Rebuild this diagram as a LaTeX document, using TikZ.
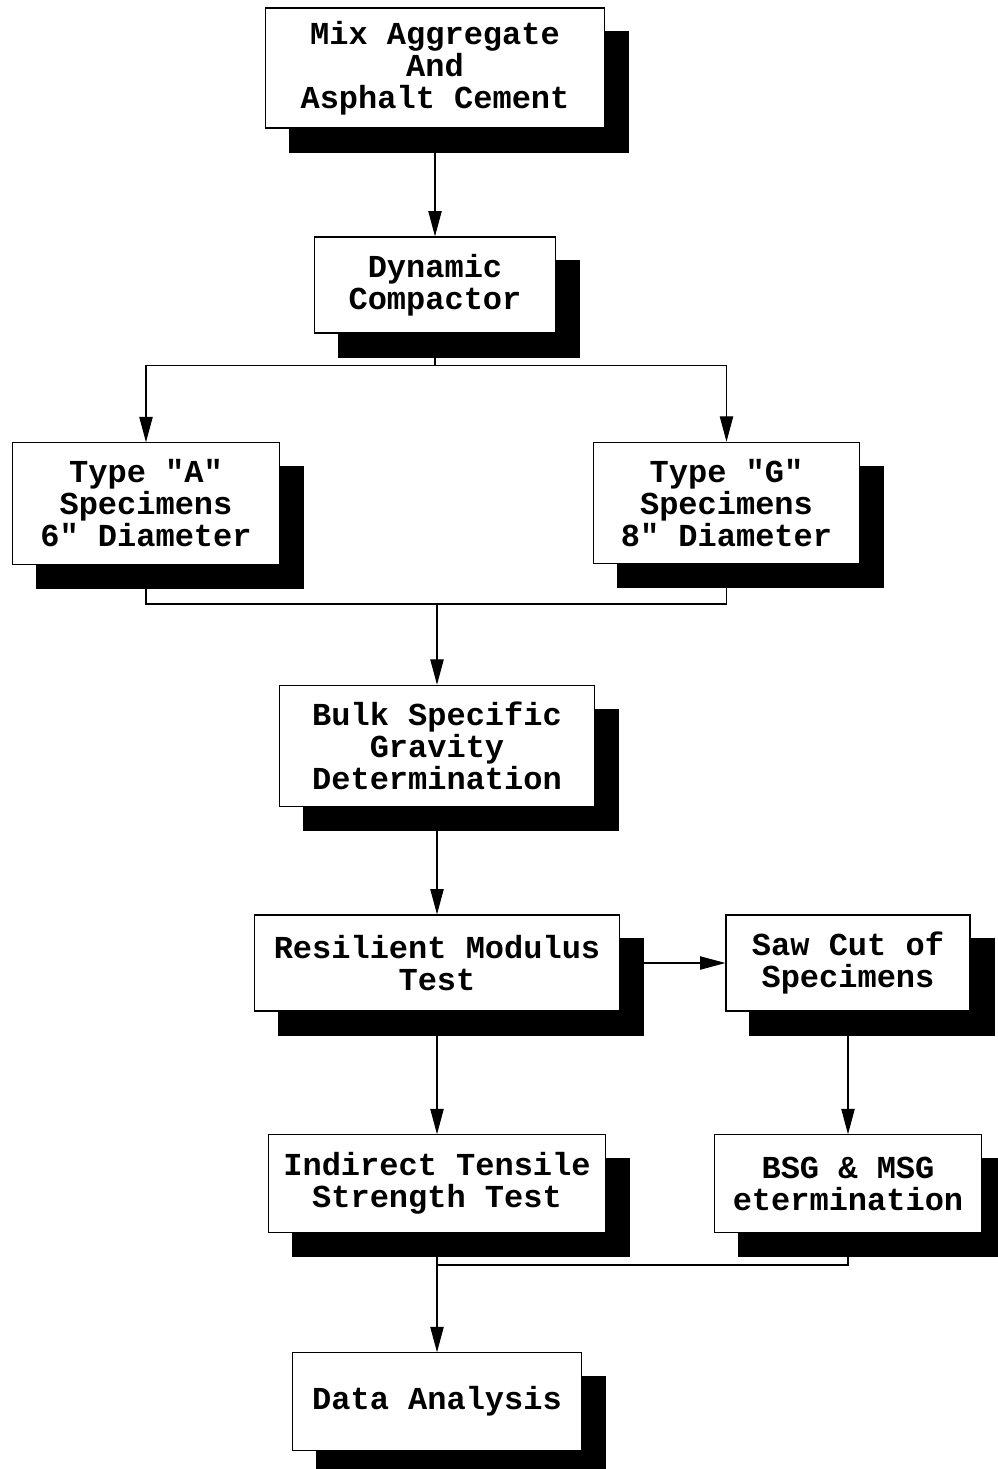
\documentclass[tikz,border=0pt]{standalone}
\usepackage{fontspec}
\newfontfamily\boxfont{Liberation Mono}
\usetikzlibrary{arrows.meta,calc,backgrounds}

\tikzset{
  procbox/.style={draw, line width=0.9pt, fill=white, inner sep=0pt, align=center,
    font=\boxfont\bfseries\fontsize{24}{24}\selectfont},
  flow/.style={line width=0.8pt, -{Triangle[length=19pt,width=10pt]}},
  link/.style={line width=0.8pt}
}

\begin{document}
\begin{tikzpicture}[x=0.75pt,y=0.75pt,yscale=-1,xscale=1]
            \useasboundingbox (0,0) rectangle (998,1469);

            % Process boxes
            \node [procbox, minimum width=254pt, minimum height=90pt] (mix) at (435,68) {Mix Aggregate\\And\\Asphalt Cement};
            \node [procbox, minimum width=181pt, minimum height=72pt] (dyn) at (435,285) {Dynamic\\Compactor};
            \node [procbox, minimum width=200pt, minimum height=91pt] (typeA) at (146,503.5) {Type "A"\\Specimens\\6" Diameter};
            \node [procbox, minimum width=200pt, minimum height=91pt] (typeG) at (726.5,503) {Type "G"\\Specimens\\8" Diameter};
            \node [procbox, minimum width=236pt, minimum height=91pt] (bulk) at (437,746) {Bulk Specific\\Gravity\\Determination};
            \node [procbox, minimum width=274pt, minimum height=72pt] (resil) at (437,963) {Resilient Modulus\\Test};
            \node [procbox, minimum width=183pt, minimum height=72pt] (saw) at (848,963) {Saw Cut of\\Specimens};
            \node [procbox, minimum width=253pt, minimum height=73pt] (ind) at (437,1183.5) {Indirect Tensile\\Strength Test};
            \node [procbox, minimum width=200pt, minimum height=73pt] (bsg) at (848,1183.5) {BSG \& MSG\\etermination};
            \node [procbox, minimum width=217pt, minimum height=73pt] (data) at (437,1401.5) {Data Analysis};

            % Shadows
            \begin{scope}[on background layer]
              \foreach \n in {mix,dyn,typeA,typeG,bulk,resil,saw,ind,bsg,data}
                \fill ($(\n.north west)+(24,24)$) rectangle ($(\n.south east)+(24,24)$);
            \end{scope}

            % Split after compactor
            \draw [flow] ($(mix.south)+(0,24)$) -- (dyn.north);
            \draw [link] ($(dyn.south)+(0,24)$) -- ++(0,8) coordinate (split);
            \draw [flow] (split) -| (typeA.north);
            \draw [flow] (split) -| (typeG.north);

            % Join of specimen types
            \coordinate (join) at (437,604);
            \draw [link] ($(typeA.south)+(0,24)$) |- (join) -| ($(typeG.south)+(0,24)$);
            \draw [flow] (join) -- (bulk.north);

            \draw [flow] ($(bulk.south)+(0,24)$) -- (resil.north);
            \draw [flow] ($(resil.east)+(24,0)$) -- (saw.west);
            \draw [flow] ($(resil.south)+(0,24)$) -- (ind.north);
            \draw [flow] ($(saw.south)+(0,24)$) -- (bsg.north);

            % Merge into analysis
            \coordinate (merge) at (437,1265);
            \draw [link] ($(ind.south)+(0,24)$) -- (merge) -| ($(bsg.south)+(0,24)$);
            \draw [flow] (merge) -- (data.north);

\end{tikzpicture}
\end{document}
